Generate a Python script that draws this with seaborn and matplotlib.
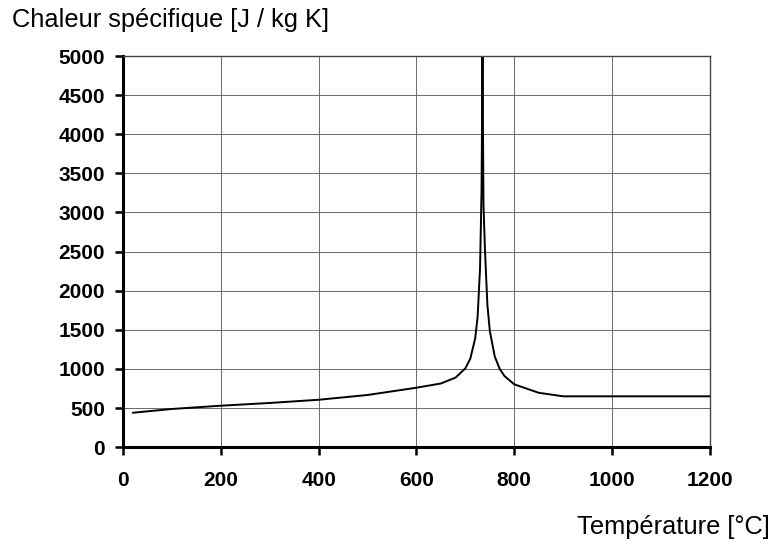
import matplotlib
matplotlib.use("Agg")
import matplotlib.pyplot as plt
import seaborn as sns
import pandas as pd

temperature = [20, 100, 200, 300, 400, 500, 600, 650, 680, 700, 710, 720, 725, 730, 733, 735,
               737, 740, 745, 750, 760, 770, 780, 800, 850, 900, 1000, 1100, 1200]
specific_heat = [440, 488, 530, 565, 606, 667, 760, 814, 890, 1008, 1130, 1388, 1666, 2291, 3267, 5000,
                 3107, 2525, 1818, 1483, 1160, 1002, 909, 803, 695, 650, 650, 650, 650]
x_ticks = [0, 200, 400, 600, 800, 1000, 1200]
y_ticks = [0, 500, 1000, 1500, 2000, 2500, 3000, 3500, 4000, 4500, 5000]

sns.set_theme(style="white")
plt.rcParams['font.family'] = ['Liberation Sans', 'DejaVu Sans']

df = pd.DataFrame({"T": temperature, "c": specific_heat})

fig = plt.figure(figsize=(7.73, 5.44), dpi=100)
ax = fig.add_axes([0.159, 0.178, 0.7595, 0.719])
sns.lineplot(data=df, x="T", y="c", ax=ax, color="black", linewidth=1.4, sort=False)

ax.set_xlim(0, 1200)
ax.set_ylim(0, 5000)
ax.set_xticks(x_ticks)
ax.set_yticks(y_ticks)
ax.set_xticklabels([str(t) for t in x_ticks], fontweight="bold", fontsize=15, color="black")
ax.set_yticklabels([str(t) for t in y_ticks], fontweight="bold", fontsize=15, color="black")
ax.grid(True, color="#6a6a6a", linewidth=0.7)
ax.set_axisbelow(True)
ax.set_xlabel("")
ax.set_ylabel("")

for s in ["top", "right"]:
    ax.spines[s].set_color("#444444")
    ax.spines[s].set_linewidth(1.0)
for s in ["left", "bottom"]:
    ax.spines[s].set_color("black")
    ax.spines[s].set_linewidth(2.2)

ax.tick_params(axis="x", which="major", direction="out", length=6, width=1.8,
               color="black", bottom=True, pad=11)
ax.tick_params(axis="y", which="major", direction="out", length=6, width=1.8,
               color="black", left=True, pad=7)

fig.text(12 / 773, 1 - 20 / 544, "Chaleur spécifique [J / kg K]", fontsize=18.3,
         ha="left", va="center", color="black")
fig.text(770 / 773, 1 - 527 / 544, "Température [°C]", fontsize=18.3,
         ha="right", va="center", color="black")

fig.savefig("out.png", dpi=100, facecolor="white")
